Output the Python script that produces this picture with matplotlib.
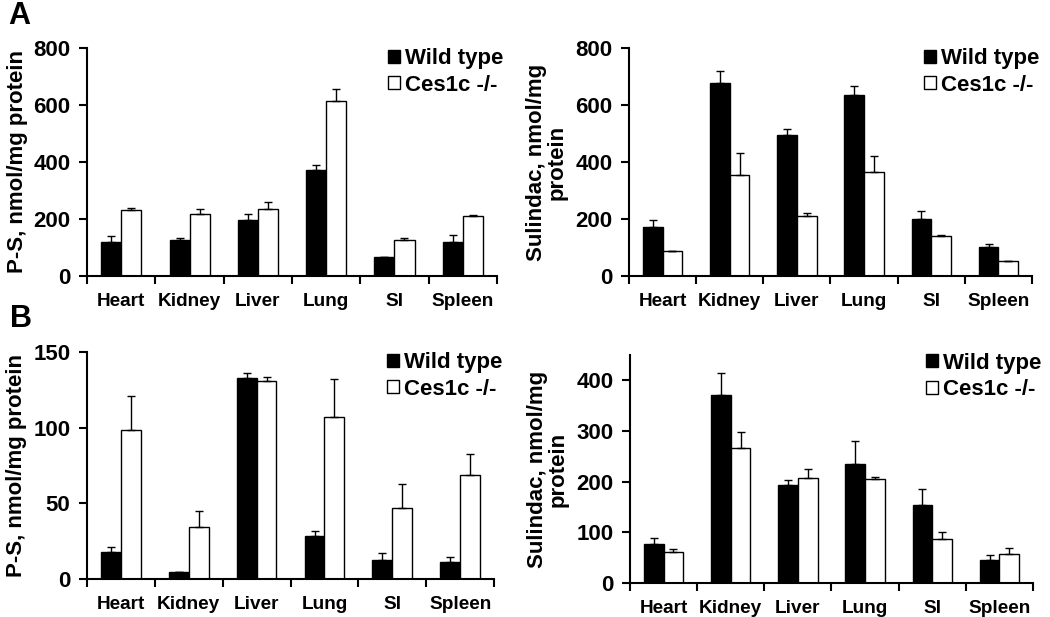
import matplotlib
matplotlib.use("Agg")
import matplotlib.pyplot as plt
from matplotlib.patches import Patch
import numpy as np

plt.rcParams["font.family"] = ["Liberation Sans", "DejaVu Sans"]
plt.rcParams["font.weight"] = "bold"

tissues = ["Heart", "Kidney", "Liver", "Lung", "SI", "Spleen"]

# panel A, P-S
a_ps_wt = [120, 126, 196, 371, 65, 119]
a_ps_wt_err = [20, 7, 20, 17, 3, 26]
a_ps_ko = [231, 218, 236, 613, 127, 211]
a_ps_ko_err = [8, 17, 22, 44, 8, 3]

# panel A, sulindac
a_sul_wt = [171, 676, 495, 634, 200, 100]
a_sul_wt_err = [24, 42, 20, 33, 27, 11]
a_sul_ko = [89, 355, 209, 366, 140, 51]
a_sul_ko_err = [0, 77, 11, 54, 5, 0]

# panel B, P-S
b_ps_wt = [17.6, 4.4, 132.7, 28.1, 12.7, 11.2]
b_ps_wt_err = [3.7, 0, 3.3, 3.5, 4.2, 3.1]
b_ps_ko = [98.4, 34.5, 130.7, 107, 46.8, 69]
b_ps_ko_err = [22.2, 10.7, 3.1, 25.2, 15.8, 13.8]

# panel B, sulindac
b_sul_wt = [76.7, 370.5, 193.4, 234, 154.8, 44.6]
b_sul_wt_err = [13.1, 44.5, 9.6, 46.7, 30.2, 11.1]
b_sul_ko = [61, 266, 207, 204.6, 87, 57]
b_sul_ko_err = [6.5, 33, 18, 3.9, 13, 12]

ps_label = "P-S, nmol/mg protein"
sul_label = "Sulindac, nmol/mg\nprotein"


def draw_panel(ax, wt, wt_err, ko, ko_err, ymax, yticks, ylabel,
               label_x, leg_x, leg_y):
    x = np.arange(len(tissues))
    w = 0.293
    ax.bar(x - w / 2, wt, w, color="black", edgecolor="black", linewidth=1)
    ax.bar(x + w / 2, ko, w, color="white", edgecolor="black", linewidth=1)
    ax.errorbar(x - w / 2, wt, yerr=[np.zeros(len(wt)), wt_err], fmt="none",
                ecolor="black", elinewidth=1, capsize=3, capthick=1)
    ax.errorbar(x + w / 2, ko, yerr=[np.zeros(len(ko)), ko_err], fmt="none",
                ecolor="black", elinewidth=1, capsize=3, capthick=1)

    ax.set_xlim(-0.5, len(tissues) - 0.5)
    ax.set_ylim(0, ymax)
    ax.set_yticks(yticks)
    ax.set_xticks(x)
    ax.set_xticklabels(tissues, fontsize=13.7, fontweight="bold")
    ax.set_xticks(np.arange(len(tissues) + 1) - 0.5, minor=True)
    ax.tick_params(axis="x", which="major", length=0, pad=12)
    ax.tick_params(axis="x", which="minor", length=6, width=1.5, direction="out")
    ax.tick_params(axis="y", length=6, width=1.5, direction="out", pad=6, labelsize=16)
    for t in ax.get_yticklabels():
        t.set_fontweight("bold")

    for s in ["top", "right"]:
        ax.spines[s].set_visible(False)
    ax.spines["left"].set_linewidth(1.5)
    ax.spines["bottom"].set_linewidth(1.5)

    ax.set_ylabel(ylabel, fontsize=16, fontweight="bold", linespacing=1.0)
    ax.yaxis.set_label_coords(label_x, 0.5)

    handles = [Patch(facecolor="black", edgecolor="black", linewidth=1),
               Patch(facecolor="white", edgecolor="black", linewidth=1)]
    leg = ax.legend(handles, ["Wild type", "Ces1c -/-"], loc="upper left",
                    bbox_to_anchor=(leg_x, leg_y), frameon=False, fontsize=16,
                    handlelength=0.54, handleheight=0.54, handletextpad=0.22,
                    labelspacing=0.25, borderaxespad=0, borderpad=0)
    for t in leg.get_texts():
        t.set_fontweight("bold")


fig = plt.figure(figsize=(10.5, 6.17), dpi=100)

ax1 = fig.add_axes([0.0829, 0.5527, 0.3904, 0.3695])
draw_panel(ax1, a_ps_wt, a_ps_wt_err, a_ps_ko, a_ps_ko_err, 800,
           [0, 200, 400, 600, 800], ps_label, -0.145, 0.734, 1.0)

ax2 = fig.add_axes([0.599, 0.5527, 0.3839, 0.3695])
draw_panel(ax2, a_sul_wt, a_sul_wt_err, a_sul_ko, a_sul_ko_err, 800,
           [0, 200, 400, 600, 800], sul_label, -0.152, 0.732, 1.0)

ax3 = fig.add_axes([0.0829, 0.0616, 0.3876, 0.3679])
draw_panel(ax3, b_ps_wt, b_ps_wt_err, b_ps_ko, b_ps_ko_err, 150,
           [0, 50, 100, 150], ps_label, -0.147, 0.737, 1.0)

ax4 = fig.add_axes([0.600, 0.0551, 0.3838, 0.3695])
draw_panel(ax4, b_sul_wt, b_sul_wt_err, b_sul_ko, b_sul_ko_err, 450,
           [0, 100, 200, 300, 400], sul_label, -0.152, 0.734, 1.01)

fig.text(0.008, 0.998, "A", fontsize=22, fontweight="bold", va="top", ha="left")
fig.text(0.010, 0.508, "B", fontsize=22, fontweight="bold", va="top", ha="left")

fig.savefig("out.png", dpi=100)
